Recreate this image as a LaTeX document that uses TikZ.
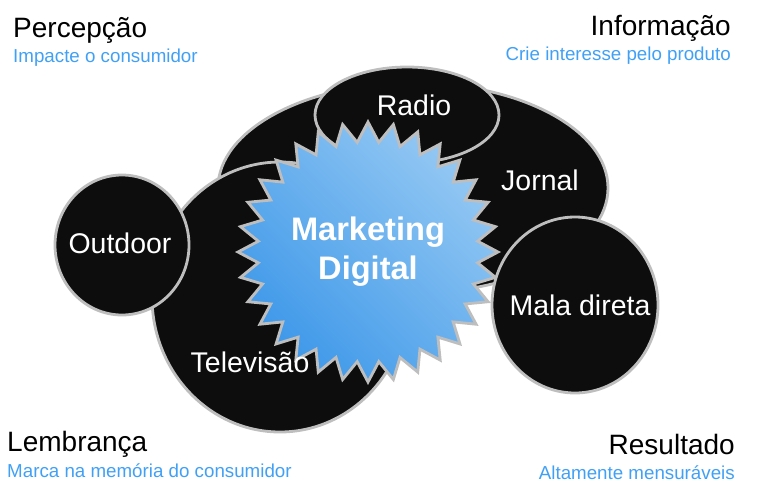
\documentclass[tikz,border=0pt]{standalone}
\usepackage{fontspec}
\setmainfont{Liberation Sans}
\usepackage{xcolor}
\usepackage{tikz}
\usetikzlibrary{positioning,shapes.geometric}
\definecolor{bubblefill}{RGB}{13,13,13}
\definecolor{rimgray}{RGB}{190,190,190}
\definecolor{starlight}{RGB}{148,200,243}
\definecolor{stardark}{RGB}{62,152,233}
\definecolor{subblue}{RGB}{64,160,245}
\newcommand{\pxu}{0.03cm}

\begin{document}
\begin{tikzpicture}[x=0.03cm, y=-0.03cm,
  bubble/.style={ellipse, draw=rimgray, line width=2.4pt, fill=bubblefill, inner sep=0pt},
  bubbletext/.style={text=white, font=\fontsize{24.3}{28}\selectfont, anchor=base, inner sep=0pt},
  titletext/.style={text=black, font=\fontsize{23.9}{28}\selectfont, inner sep=0pt},
  subtext/.style={text=subblue, font=\fontsize{16}{19}\selectfont, inner sep=0pt}]
  \useasboundingbox (0,0) rectangle (758,495);
  % bubbles, back to front
  \node[bubble, minimum width=390*\pxu, minimum height=210*\pxu] (jornal) at (413,188) {};
  \node[bubble, minimum width=184*\pxu, minimum height=96*\pxu] (radio) at (407,115) {};
  \node[bubble, minimum width=256*\pxu, minimum height=270*\pxu] (tv) at (280,297) {};
  \node[bubble, minimum width=134*\pxu, minimum height=140*\pxu] (outdoor) at (122,245) {};
  \node[star, star points=32, star point ratio=1.18, minimum size=260*\pxu, inner sep=0pt, draw=rimgray, line width=2.4pt, top color=starlight, bottom color=stardark, shading angle=-45, text=white, align=center, font=\fontsize{27.8}{33.5}\selectfont\bfseries] (mkt) at (368,252) {Marketing\\Digital};
  \node[bubble, minimum width=166*\pxu, minimum height=176*\pxu] (mala) at (575,305) {};
  % bubble labels
  \node[bubbletext] (radiolbl) at (414,115) {Radio};
  \node[bubbletext] (jornallbl) at (540,190) {Jornal};
  \node[bubbletext] (outdoorlbl) at (120,253) {Outdoor};
  \node[bubbletext] (tvlbl) at (250,372) {Televisão};
  \node[bubbletext] (malalbl) at (580,315) {Mala direta};
  % corner captions
  \node[titletext, anchor=base west] (perc) at (13,37) {Percepção};
  \node[subtext, below=0.77cm of perc.base west, anchor=base west] (percsub) {Impacte o consumidor};
  \node[titletext, anchor=base east] (info) at (731,35) {Informação};
  \node[subtext, below=0.77cm of info.base east, anchor=base east] (infosub) {Crie interesse pelo produto};
  \node[titletext, anchor=base west] (lemb) at (7,451) {Lembrança};
  \node[subtext, below=0.78cm of lemb.base west, anchor=base west] (lembsub) {Marca na memória do consumidor};
  \node[titletext, anchor=base east] (res) at (735,454) {Resultado};
  \node[subtext, below=0.76cm of res.base east, anchor=base east] (ressub) {Altamente mensuráveis};
\end{tikzpicture}
\end{document}
